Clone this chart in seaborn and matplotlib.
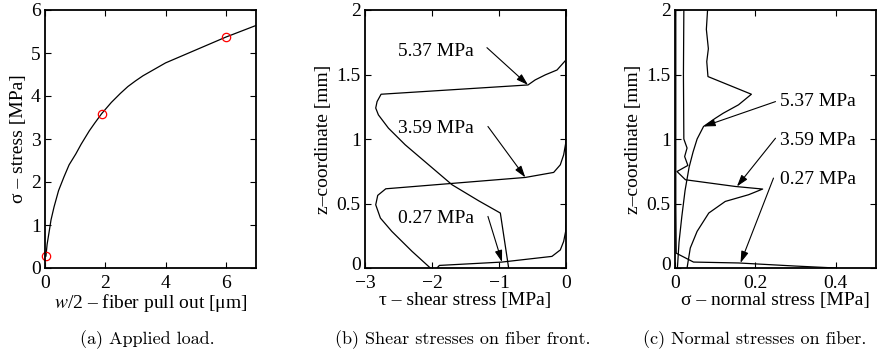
import numpy as np
import pandas as pd
import seaborn as sns
import matplotlib
matplotlib.use('Agg')
import matplotlib.pyplot as plt
from matplotlib.transforms import ScaledTranslation

# (a) applied load curve
pull = [0.03, 0.07, 0.13, 0.2, 0.3, 0.45, 0.63, 0.8, 1.02, 1.2, 1.47, 1.65, 1.88, 2.2, 2.5,
        2.75, 3.0, 3.25, 3.5, 4.0, 5.0, 6.0, 7.0]
load = [0.27, 0.55, 0.81, 1.12, 1.42, 1.8, 2.12, 2.4, 2.65, 2.88, 3.19, 3.37, 3.59, 3.85, 4.06,
        4.22, 4.35, 4.47, 4.57, 4.77, 5.07, 5.37, 5.64]
pull_marks = [0.03, 1.9, 6.0]
load_marks = [0.27, 3.59, 5.37]

# (b) shear stress along fiber front, one curve per load
tau_537 = [-0.856, -0.98, -1.30, -1.70, -2.05, -2.40, -2.65, -2.80, -2.84, -2.82, -2.76,
           -0.567, -0.46, -0.31, -0.134, 0.0, 0.0]
z_tau_537 = [0.0, 0.426, 0.52, 0.645, 0.80, 0.955, 1.084, 1.187, 1.24, 1.29, 1.347,
             1.419, 1.458, 1.497, 1.535, 1.613, 2.0]
tau_359 = [-2.025, -2.30, -2.60, -2.77, -2.84, -2.81, -2.69, -0.607, -0.184, -0.085, -0.035, 0.0, 0.0]
z_tau_359 = [0.0, 0.13, 0.284, 0.387, 0.49, 0.563, 0.614, 0.702, 0.741, 0.80, 0.877, 0.98, 2.0]
tau_027 = [-1.925, -1.89, -0.955, -0.21, -0.085, -0.035, -0.005, 0.0, 0.0]
z_tau_027 = [0.0, 0.02, 0.046, 0.09, 0.14, 0.206, 0.284, 0.36, 2.0]

# (c) normal stress on fiber
sig_537 = [0.081, 0.078, 0.083, 0.079, 0.082, 0.19, 0.158, 0.12, 0.10, 0.071, 0.055,
           0.045, 0.035, 0.025, 0.017, 0.010, 0.006]
z_sig_537 = [2.0, 1.85, 1.7, 1.6, 1.484, 1.347, 1.265, 1.2, 1.16, 1.097, 1.0,
             0.9, 0.78, 0.6, 0.4, 0.2, 0.0]
sig_359 = [0.022, 0.021, 0.022, 0.030, 0.024, 0.032, 0.005, 0.026, 0.15, 0.218,
           0.183, 0.125, 0.084, 0.055, 0.038, 0.030]
z_sig_359 = [2.0, 1.5, 1.0, 0.93, 0.864, 0.795, 0.748, 0.684, 0.632, 0.612,
             0.568, 0.516, 0.426, 0.284, 0.155, 0.0]
sig_027 = [0.002, 0.002, 0.003, 0.046, 0.158, 0.30, 0.40]
z_sig_027 = [2.0, 0.5, 0.115, 0.046, 0.039, 0.015, 0.0]

load_labels = ['5.37 MPa', '3.59 MPa', '0.27 MPa']

sns.set_style('ticks')
plt.rcParams['font.family'] = ['Liberation Serif', 'DejaVu Serif']
plt.rcParams['mathtext.fontset'] = 'stix'
plt.rcParams['xtick.direction'] = 'in'
plt.rcParams['ytick.direction'] = 'in'
for k in ['text.color', 'axes.labelcolor', 'xtick.color', 'ytick.color']:
    plt.rcParams[k] = 'black'

fs = 14
W, H = 893, 358
fig = plt.figure(figsize=(W / 100, H / 100), dpi=100)

def make_ax(left, right):
    ax = fig.add_axes([left / W, (H - 268) / H, (right - left) / W, 258 / H])
    ax.tick_params(top=True, right=True, length=4, width=0.8, labelsize=fs)
    ax.tick_params(axis='x', pad=5)
    ax.tick_params(axis='y', pad=3)
    for s in ax.spines.values():
        s.set_linewidth(1.3)
        s.set_color('k')
    return ax

def curve(ax, x, y):
    sns.lineplot(x=x, y=y, sort=False, estimator=None, color='k', lw=0.9, ax=ax)

def arrow(ax, tail, head):
    ax.annotate('', xy=head, xytext=tail,
                arrowprops=dict(arrowstyle='-|>,head_length=0.7,head_width=0.22',
                                color='k', lw=0.8, shrinkA=0, shrinkB=0))

def lift_zero(ax):
    # raise the y "0" label a little so it clears the x tick label below it
    lbl = ax.get_yticklabels()[0]
    lbl.set_transform(lbl.get_transform() + ScaledTranslation(0, 3.5 / 72, fig.dpi_scale_trans))

# panel a
ax1 = make_ax(45, 256)
curve(ax1, pull, load)
ax1.plot(pull_marks, load_marks, 'o', mfc='none', mec='red', ms=6, mew=0.9, clip_on=False)
ax1.set_xlim(0, 7)
ax1.set_ylim(0, 6)
ax1.set_xticks([0, 2, 4, 6])
ax1.set_yticks(range(7))
ax1.set_xlabel('$w$/2 – fiber pull out [μm]', fontsize=fs, labelpad=0)
ax1.set_ylabel('σ – stress [MPa]', fontsize=fs, labelpad=3)

# panel b
ax2 = make_ax(365, 566)
for x, y in [(tau_537, z_tau_537), (tau_359, z_tau_359), (tau_027, z_tau_027)]:
    curve(ax2, x, y)
ax2.set_xlim(-3, 0)
ax2.set_ylim(0, 2)
ax2.set_xticks([-3, -2, -1, 0])
ax2.set_yticks([0, 0.5, 1, 1.5, 2])
ax2.set_yticklabels(['0', '0.5', '1', '1.5', '2'])
ax2.set_xlabel('τ – shear stress [MPa]', fontsize=fs, labelpad=0)
ax2.set_ylabel('z–coordinate [mm]', fontsize=fs, labelpad=3)
b_text_z = [1.677, 1.084, 0.387]
b_tails = [(-1.18, 1.708), (-1.165, 1.097), (-1.165, 0.40)]
b_heads = [(-0.567, 1.419), (-0.607, 0.702), (-0.955, 0.046)]
for lab, tz, t, h in zip(load_labels, b_text_z, b_tails, b_heads):
    ax2.text(-2.50, tz, lab, fontsize=fs, va='center', ha='left')
    arrow(ax2, t, h)
lift_zero(ax2)

# panel c
ax3 = make_ax(675, 876)
for x, y in [(sig_537, z_sig_537), (sig_359, z_sig_359), (sig_027, z_sig_027)]:
    curve(ax3, x, y)
ax3.set_xlim(0, 0.5)
ax3.set_ylim(0, 2)
ax3.set_xticks([0, 0.2, 0.4])
ax3.set_xticklabels(['0', '0.2', '0.4'])
ax3.set_yticks([0, 0.5, 1, 1.5, 2])
ax3.set_yticklabels(['0', '0.5', '1', '1.5', '2'])
ax3.set_xlabel('σ – normal stress [MPa]', fontsize=fs, labelpad=0)
ax3.set_ylabel('z–coordinate [mm]', fontsize=fs, labelpad=3)
c_text_z = [1.29, 0.986, 0.684]
c_tails = [(0.25, 1.29), (0.25, 1.006), (0.245, 0.697)]
c_heads = [(0.071, 1.097), (0.154, 0.632), (0.163, 0.039)]
for lab, tz, t, h in zip(load_labels, c_text_z, c_tails, c_heads):
    ax3.text(0.26, tz, lab, fontsize=fs, va='center', ha='left')
    arrow(ax3, t, h)
lift_zero(ax3)

# captions
captions = ['(a) Applied load.', '(b) Shear stresses on fiber front.', '(c) Normal stresses on fiber.']
cap_x = [147, 463, 755]
for c, cx in zip(captions, cap_x):
    fig.text(cx / W, 1 - 340 / H, c, fontsize=13, family=['cmr10', 'DejaVu Serif'],
             ha='center', va='center')

fig.savefig('out.png', dpi=100)
